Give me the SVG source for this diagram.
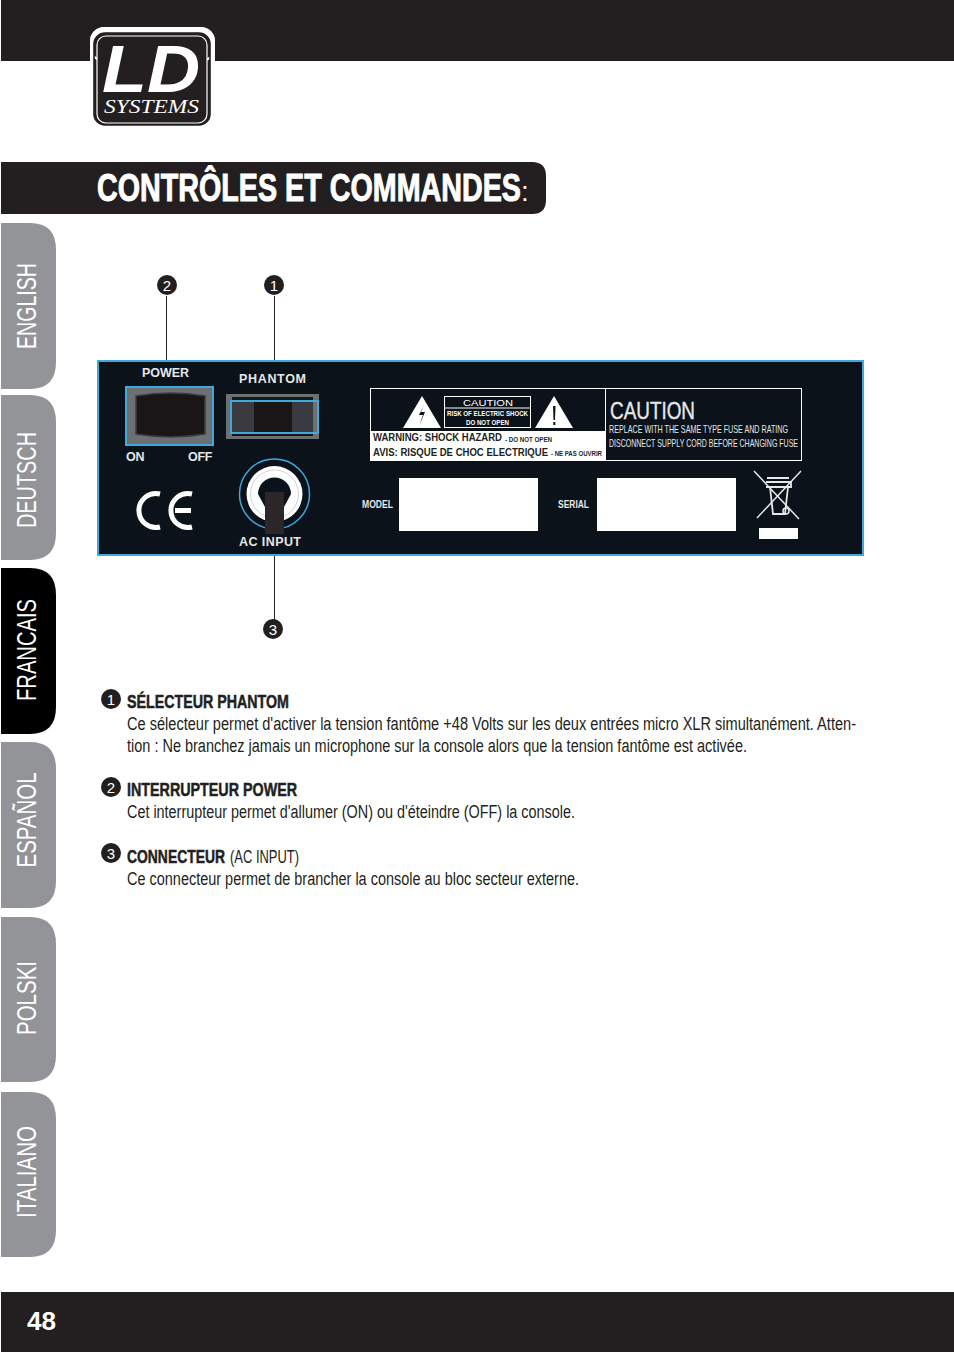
<svg xmlns="http://www.w3.org/2000/svg" width="954" height="1352" viewBox="0 0 954 1352">
<style>
text{font-family:"Liberation Sans",Arial,sans-serif}
.tab{fill:#929497}
.tabt{fill:#fff;font-size:27px;text-anchor:middle}
.pl{fill:#e6e7e8;font-weight:bold;font-size:12.5px}
.body{fill:#231f20;font-size:18px}
.head{fill:#231f20;font-size:19px;font-weight:bold;stroke:#231f20;stroke-width:.5}
.num{fill:#fff;font-size:15px;text-anchor:middle}
.dot{fill:#231f20}
.wire{stroke:#231f20;stroke-width:1;fill:none}
.sm{font-weight:bold;fill:#231f20}
.cy{fill:none;stroke:#3fa9dc;stroke-width:2}
</style>
<rect width="954" height="1352" fill="#fff"/>
<g id="header">
<rect x="1" y="0" width="953" height="61" fill="#231f20"/>
</g>
<g id="logo">
<path d="M90 61V44Q90 27 107 27H198Q215 27 215 44V61Z" fill="#fff"/>
<rect x="90" y="40" width="125" height="22" fill="#fff"/>
<rect x="95" y="34" width="114" height="90" rx="10" fill="#231f20" stroke="#231f20" stroke-width="2"/>
<rect x="91" y="28" width="123" height="33" rx="13" fill="none" stroke="#fff" stroke-width="2"/>
<rect x="97" y="36" width="110" height="87" rx="9" fill="#231f20" stroke="#fff" stroke-width="1.2"/>
<rect x="94" y="33" width="116" height="92" rx="11" fill="none" stroke="#231f20" stroke-width="1.6"/>
<text x="102" y="92" font-size="67" font-weight="bold" font-style="italic" fill="#fff" textLength="98" lengthAdjust="spacingAndGlyphs">LD</text>
<text x="104" y="113" fill="#fff" font-size="18" font-style="italic" style="font-family:'Liberation Serif',serif" textLength="95" lengthAdjust="spacingAndGlyphs">SYSTEMS</text>
</g>
<g id="title">
<path d="M1 162H532Q546 162 546 176V200Q546 214 532 214H1Z" fill="#231f20"/>
<text x="97" y="201" fill="#fff" font-size="38" font-weight="bold" stroke="#fff" stroke-width="1" textLength="424" lengthAdjust="spacingAndGlyphs">CONTRÔLES ET COMMANDES</text>
<text x="521" y="201" fill="#fff" font-size="28">:</text>
</g>
<g id="tabs">
<path id="tab-english" class="tab" d="M1 223H30Q56 223 56 250V362Q56 389 30 389H1Z"/>
<text class="tabt" transform="translate(36 306) rotate(-90)" textLength="86" lengthAdjust="spacingAndGlyphs">ENGLISH</text>
<path id="tab-deutsch" class="tab" d="M1 395H30Q56 395 56 422V533Q56 560 30 560H1Z"/>
<text class="tabt" transform="translate(36 480) rotate(-90)" textLength="96" lengthAdjust="spacingAndGlyphs">DEUTSCH</text>
<path id="tab-francais" fill="#000" d="M1 568H30Q56 568 56 595V707Q56 734 30 734H1Z"/>
<text class="tabt" transform="translate(36 650) rotate(-90)" textLength="102" lengthAdjust="spacingAndGlyphs">FRANCAIS</text>
<path id="tab-espanol" class="tab" d="M1 742H30Q56 742 56 769V881Q56 908 30 908H1Z"/>
<text class="tabt" transform="translate(36 820) rotate(-90)" textLength="95" lengthAdjust="spacingAndGlyphs">ESPAÑOL</text>
<path id="tab-polski" class="tab" d="M1 917H30Q56 917 56 944V1055Q56 1082 30 1082H1Z"/>
<text class="tabt" transform="translate(36 998) rotate(-90)" textLength="74" lengthAdjust="spacingAndGlyphs">POLSKI</text>
<path id="tab-italiano" class="tab" d="M1 1092H30Q56 1092 56 1119V1230Q56 1257 30 1257H1Z"/>
<text class="tabt" transform="translate(36 1172) rotate(-90)" textLength="92" lengthAdjust="spacingAndGlyphs">ITALIANO</text>
</g>
<g id="connectors">
<line class="wire" x1="166.500" y1="296" x2="166.500" y2="361"/>
<line class="wire" x1="274.500" y1="296" x2="274.500" y2="361"/>
<line class="wire" x1="274.500" y1="555" x2="274.500" y2="620"/>
</g>
<g id="panel">
<rect x="98" y="361" width="765" height="194" fill="#0b121a" stroke="#3fa9dc" stroke-width="2"/>
<g id="power">
<text class="pl" x="142" y="377" font-size="12.5" textLength="47">POWER</text>
<rect x="125.500" y="386" width="88" height="59" fill="#6d7072"/>
<rect x="126" y="387" width="87" height="58" class="cy"/>
<path d="M136 396Q171 390 205 396V434Q171 440 136 434Z" fill="#1a1617" stroke="#3c3c40" stroke-width="1.500"/>
<text class="pl" x="126" y="461" textLength="18.500">ON</text>
<text class="pl" x="188" y="461" textLength="24.500">OFF</text>
</g>
<g id="phantom">
<text class="pl" x="239" y="383" textLength="67">PHANTOM</text>
<rect x="226" y="394" width="93" height="45" fill="#6d7072"/>
<rect x="232" y="397" width="81" height="39" fill="#1a1617"/>
<rect x="231" y="400" width="23" height="33" fill="#3a3b40"/>
<rect x="292" y="400" width="21" height="33" fill="#3a3b40"/>
<rect x="231" y="401" width="87" height="32" class="cy"/>
</g>
<g id="ac-input">
<circle cx="274.500" cy="494" r="35" fill="#0b121a" stroke="#3fa9dc" stroke-width="1.500"/>
<circle cx="274.500" cy="494" r="28" fill="#fff"/>
<circle cx="274.500" cy="494" r="24" fill="none" stroke="#bdbfc1" stroke-width=".7"/>
<path d="M258 494A16.500 16.500 0 0 1 291 494L284 507V522H265V507Z" fill="#0b121a"/>
<rect x="265" y="492" width="19" height="42" fill="#2b2627"/>
<text class="pl" x="239" y="546" textLength="62">AC INPUT</text>
</g>
<g id="ce-mark" fill="none" stroke="#fff" stroke-width="5">
<path d="M160 494A17 17 0 1 0 160 527"/>
<path d="M192 494A17 17 0 1 0 192 527M175 510.500H191"/>
</g>
<g id="warning-label">
<rect x="370.500" y="388.500" width="235" height="72" fill="#0b121a" stroke="#fff"/>
<rect x="371" y="431" width="234" height="29" fill="#fff"/>
<path d="M403 428L422 396L441 428Z" fill="#fff"/>
<path d="M424 405L419 415L423 415L419 426L425 412H421Z" fill="#0b121a"/>
<rect x="444.500" y="396.500" width="86" height="31" fill="#0b121a" stroke="#fff"/>
<line x1="445" y1="408" x2="530" y2="408" stroke="#fff"/>
<text x="463" y="406" fill="#fff" font-size="9.500" textLength="50" lengthAdjust="spacingAndGlyphs">CAUTION</text>
<text x="447" y="416" fill="#fff" font-size="7" font-weight="bold" textLength="81" lengthAdjust="spacingAndGlyphs">RISK OF ELECTRIC SHOCK</text>
<text x="466" y="425" fill="#fff" font-size="7" font-weight="bold" textLength="43" lengthAdjust="spacingAndGlyphs">DO NOT OPEN</text>
<path d="M535 428L554 396L573 428Z" fill="#fff"/>
<path d="M553 406H555.500L555 420H553.500ZM553.300 422H555.300V425H553.300Z" fill="#0b121a"/>
<text class="sm" x="373" y="441" font-size="11.500" textLength="129" lengthAdjust="spacingAndGlyphs">WARNING: SHOCK HAZARD</text>
<text class="sm" x="505" y="442" font-size="7" textLength="47" lengthAdjust="spacingAndGlyphs">- DO NOT OPEN</text>
<text class="sm" x="373" y="456" font-size="11.500" textLength="175" lengthAdjust="spacingAndGlyphs">AVIS: RISQUE DE CHOC ELECTRIQUE</text>
<text class="sm" x="551" y="456" font-size="7" textLength="51" lengthAdjust="spacingAndGlyphs">- NE PAS OUVRIR</text>
</g>
<g id="caution-label">
<rect x="605.500" y="388.500" width="196" height="72" fill="#0b121a" stroke="#fff"/>
<text x="610" y="419" fill="#e6e7e8" font-size="24" textLength="85" lengthAdjust="spacingAndGlyphs" stroke="#e6e7e8" stroke-width=".4">CAUTION</text>
<text x="609" y="433" fill="#e6e7e8" font-size="10.500" textLength="179" lengthAdjust="spacingAndGlyphs">REPLACE WITH THE SAME TYPE FUSE AND RATING</text>
<text x="609" y="447" fill="#e6e7e8" font-size="10.500" textLength="189" lengthAdjust="spacingAndGlyphs">DISCONNECT SUPPLY CORD BEFORE CHANGING FUSE</text>
</g>
<g id="model">
<text x="362" y="508" fill="#e6e7e8" font-size="10.500" font-weight="bold" textLength="31" lengthAdjust="spacingAndGlyphs">MODEL</text>
<rect x="399" y="478" width="139" height="53" fill="#fff"/>
</g>
<g id="serial">
<text x="558" y="508" fill="#e6e7e8" font-size="10.500" font-weight="bold" textLength="31" lengthAdjust="spacingAndGlyphs">SERIAL</text>
<rect x="597" y="478" width="139" height="53" fill="#fff"/>
</g>
<g id="weee" fill="none" stroke="#e6e7e8">
<path d="M754 471L799 519M801 471L757 518" stroke-width="1.500"/>
<path d="M767 478H789M766 482H791V487H766M770 487L773 514H785L788 487" stroke-width="1.800"/>
<circle cx="786" cy="511" r="3" stroke-width="1.500"/>
<rect x="759" y="528" width="39" height="11" fill="#fff" stroke="none"/>
</g>
</g>
<g id="callout-2"><circle class="dot" cx="167" cy="285" r="10"/><text class="num" x="167" y="290.500">2</text></g>
<g id="callout-1"><circle class="dot" cx="274" cy="285" r="10"/><text class="num" x="274" y="290.500">1</text></g>
<g id="callout-3"><circle class="dot" cx="273" cy="629" r="10"/><text class="num" x="273" y="634.500">3</text></g>
<g id="item-1">
<circle class="dot" cx="111" cy="699" r="10"/><text class="num" x="111" y="704.500">1</text>
<text class="head" x="127" y="708" textLength="162" lengthAdjust="spacingAndGlyphs">SÉLECTEUR PHANTOM</text>
<text class="body" x="127" y="730" textLength="729" lengthAdjust="spacingAndGlyphs">Ce sélecteur permet d'activer la tension fantôme +48 Volts sur les deux entrées micro XLR simultanément. Atten-</text>
<text class="body" x="127" y="752" textLength="620" lengthAdjust="spacingAndGlyphs">tion : Ne branchez jamais un microphone sur la console alors que la tension fantôme est activée.</text>
</g>
<g id="item-2">
<circle class="dot" cx="111" cy="787" r="10"/><text class="num" x="111" y="792.500">2</text>
<text class="head" x="127" y="796" textLength="170" lengthAdjust="spacingAndGlyphs">INTERRUPTEUR POWER</text>
<text class="body" x="127" y="818" textLength="448" lengthAdjust="spacingAndGlyphs">Cet interrupteur permet d'allumer (ON) ou d'éteindre (OFF) la console.</text>
</g>
<g id="item-3">
<circle class="dot" cx="111" cy="853" r="10"/><text class="num" x="111" y="858.500">3</text>
<text class="head" x="127" y="863" textLength="98" lengthAdjust="spacingAndGlyphs">CONNECTEUR</text>
<text class="body" x="230" y="863" textLength="69" lengthAdjust="spacingAndGlyphs">(AC INPUT)</text>
<text class="body" x="127" y="885" textLength="452" lengthAdjust="spacingAndGlyphs">Ce connecteur permet de brancher la console au bloc secteur externe.</text>
</g>
<g id="footer">
<rect x="1" y="1292" width="953" height="60" fill="#231f20"/>
<text x="27" y="1330" fill="#fff" font-size="26" font-weight="bold" textLength="29" lengthAdjust="spacingAndGlyphs">48</text>
</g>
</svg>
